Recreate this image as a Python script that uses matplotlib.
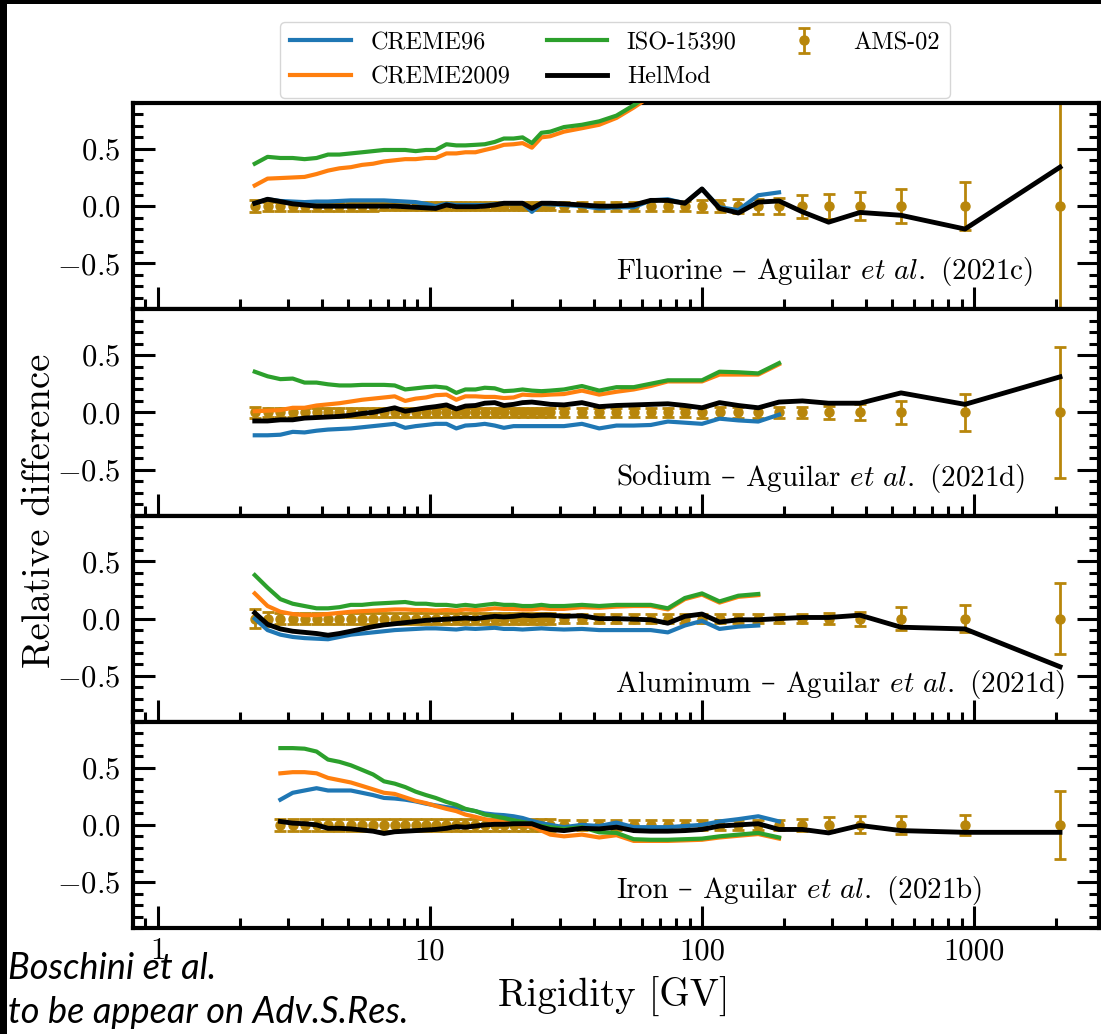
import matplotlib
matplotlib.use('Agg')
import matplotlib.pyplot as plt
from matplotlib.ticker import MultipleLocator, FixedLocator, FuncFormatter, NullFormatter
from matplotlib.patches import Rectangle

plt.rcParams['font.family'] = ['cmr10', 'DejaVu Serif']
plt.rcParams['mathtext.fontset'] = 'cm'
plt.rcParams['axes.formatter.use_mathtext'] = True

# ---------------- data ----------------
rigidity = [2.27, 2.53, 2.82, 3.13, 3.46, 3.83, 4.22, 4.65, 5.12, 5.63, 6.18, 6.78,
            7.42, 8.11, 8.86, 9.67, 10.5, 11.5, 12.5, 13.5, 14.7, 15.9, 17.3, 18.7,
            20.3, 21.9, 23.7, 25.7, 27.7, 31.1, 36.2, 41.9, 48.5, 56.1, 64.8, 74.9,
            86.5, 100, 116, 136, 161, 192, 234, 292, 381, 539, 926, 2070]
rigidity_fe = rigidity[2:]

panel_names = ["Fluorine", "Sodium", "Aluminum", "Iron"]
panel_refs = ["(2021c)", "(2021d)", "(2021d)", "(2021b)"]

# Fluorine
f_creme96 = [0.025, 0.06, 0.045, 0.04, 0.035, 0.04, 0.04, 0.045, 0.05, 0.05, 0.05, 0.05,
             0.045, 0.04, 0.035, 0.02, 0.0, 0.02, 0.01, 0.01, 0.01, 0.01, 0.015, 0.025,
             0.025, 0.025, -0.05, 0.02, 0.015, 0.01, 0.0, -0.02, -0.01, -0.01, 0.05, 0.06,
             0.025, 0.15, -0.01, -0.035, 0.095, 0.12]
f_creme2009 = [0.18, 0.24, 0.245, 0.25, 0.255, 0.28, 0.31, 0.33, 0.34, 0.36, 0.37, 0.39,
               0.40, 0.41, 0.41, 0.42, 0.42, 0.46, 0.46, 0.47, 0.47, 0.49, 0.51, 0.535,
               0.54, 0.55, 0.51, 0.60, 0.61, 0.65, 0.68, 0.71, 0.77, 0.86, 0.96, 1.08,
               1.18, 1.28, 1.38, 1.48, 1.58, 1.68]
f_iso = [0.37, 0.43, 0.42, 0.42, 0.41, 0.42, 0.45, 0.45, 0.46, 0.47, 0.48, 0.49,
         0.49, 0.49, 0.48, 0.49, 0.49, 0.54, 0.53, 0.53, 0.535, 0.54, 0.56, 0.59,
         0.59, 0.60, 0.55, 0.64, 0.65, 0.69, 0.71, 0.74, 0.79, 0.88, 0.98, 1.1,
         1.2, 1.3, 1.4, 1.5, 1.6, 1.7]
f_helmod = [0.025, 0.06, 0.04, 0.02, 0.01, 0.0, 0.0, 0.0, 0.0, 0.0, 0.0, 0.0,
            0.0, -0.005, -0.01, -0.015, -0.02, 0.01, -0.005, -0.005, -0.005, 0.0, 0.01, 0.025,
            0.025, 0.025, -0.02, 0.025, 0.025, 0.02, 0.01, 0.0, 0.0, 0.01, 0.05, 0.05,
            0.025, 0.15, -0.02, -0.06, 0.035, 0.045, -0.05, -0.14, -0.055, -0.08, -0.2, 0.34]
f_ams_err = [0.05, 0.04, 0.04, 0.04, 0.04, 0.04, 0.04, 0.04, 0.04, 0.04, 0.04, 0.035,
             0.035, 0.035, 0.035, 0.035, 0.035, 0.035, 0.035, 0.035, 0.035, 0.035, 0.035, 0.035,
             0.035, 0.035, 0.035, 0.035, 0.035, 0.04, 0.04, 0.04, 0.04, 0.04, 0.045, 0.045,
             0.045, 0.05, 0.055, 0.06, 0.065, 0.07, 0.10, 0.11, 0.125, 0.15, 0.21, 0.95]

# Sodium
na_creme96 = [-0.2, -0.2, -0.195, -0.17, -0.175, -0.16, -0.15, -0.145, -0.14, -0.13, -0.12, -0.11,
              -0.1, -0.135, -0.12, -0.11, -0.1, -0.1, -0.14, -0.115, -0.11, -0.1, -0.115, -0.135,
              -0.12, -0.12, -0.12, -0.12, -0.12, -0.12, -0.1, -0.14, -0.115, -0.115, -0.11, -0.08,
              -0.09, -0.1, -0.055, -0.07, -0.08, -0.02]
na_creme2009 = [0.01, 0.015, 0.02, 0.04, 0.04, 0.06, 0.07, 0.08, 0.095, 0.11, 0.12, 0.13,
                0.14, 0.10, 0.12, 0.13, 0.15, 0.155, 0.11, 0.14, 0.14, 0.135, 0.135, 0.125,
                0.13, 0.155, 0.15, 0.15, 0.155, 0.16, 0.19, 0.155, 0.18, 0.2, 0.23, 0.27,
                0.27, 0.27, 0.33, 0.33, 0.33, 0.42]
na_iso = [0.355, 0.315, 0.29, 0.295, 0.26, 0.26, 0.245, 0.235, 0.235, 0.24, 0.24, 0.24,
          0.235, 0.2, 0.21, 0.22, 0.225, 0.215, 0.17, 0.2, 0.2, 0.215, 0.21, 0.185,
          0.19, 0.2, 0.19, 0.185, 0.19, 0.2, 0.23, 0.19, 0.22, 0.22, 0.25, 0.28,
          0.28, 0.28, 0.355, 0.35, 0.34, 0.43]
na_helmod = [-0.075, -0.075, -0.065, -0.065, -0.05, -0.045, -0.04, -0.035, -0.025, -0.01, 0.0, 0.02,
             0.04, 0.01, 0.025, 0.04, 0.05, 0.065, 0.03, 0.055, 0.06, 0.08, 0.085, 0.06,
             0.07, 0.085, 0.09, 0.08, 0.07, 0.065, 0.085, 0.05, 0.06, 0.065, 0.07, 0.075,
             0.06, 0.04, 0.085, 0.06, 0.04, 0.09, 0.1, 0.08, 0.08, 0.17, 0.07, 0.31]
na_ams_err = [0.045, 0.04, 0.04, 0.04, 0.04, 0.04, 0.04, 0.04, 0.04, 0.04, 0.04, 0.04,
              0.04, 0.04, 0.04, 0.04, 0.04, 0.04, 0.04, 0.04, 0.04, 0.04, 0.04, 0.04,
              0.04, 0.04, 0.04, 0.04, 0.04, 0.04, 0.04, 0.04, 0.04, 0.04, 0.04, 0.04,
              0.04, 0.045, 0.05, 0.05, 0.05, 0.05, 0.05, 0.06, 0.07, 0.1, 0.16, 0.57]

# Aluminum
al_creme96 = [0.0, -0.1, -0.14, -0.16, -0.17, -0.175, -0.18, -0.16, -0.14, -0.13, -0.12, -0.11,
              -0.1, -0.095, -0.09, -0.085, -0.085, -0.09, -0.095, -0.085, -0.09, -0.085, -0.08, -0.09,
              -0.09, -0.095, -0.09, -0.085, -0.09, -0.095, -0.09, -0.1, -0.1, -0.1, -0.1, -0.12,
              -0.06, -0.02, -0.09, -0.07, -0.06]
al_creme2009 = [0.22, 0.11, 0.06, 0.04, 0.03, 0.03, 0.04, 0.05, 0.06, 0.065, 0.07, 0.075,
                0.08, 0.08, 0.075, 0.075, 0.07, 0.075, 0.07, 0.08, 0.075, 0.08, 0.09, 0.085,
                0.085, 0.08, 0.08, 0.09, 0.085, 0.085, 0.1, 0.095, 0.105, 0.11, 0.11, 0.08,
                0.17, 0.21, 0.14, 0.19, 0.205]
al_iso = [0.38, 0.27, 0.17, 0.13, 0.11, 0.09, 0.09, 0.10, 0.12, 0.12, 0.13, 0.135,
          0.14, 0.145, 0.13, 0.13, 0.12, 0.12, 0.11, 0.12, 0.11, 0.12, 0.13, 0.12,
          0.12, 0.11, 0.11, 0.12, 0.11, 0.11, 0.12, 0.11, 0.12, 0.12, 0.12, 0.09,
          0.18, 0.22, 0.15, 0.2, 0.215]
al_helmod = [0.05, -0.05, -0.09, -0.11, -0.12, -0.13, -0.145, -0.13, -0.11, -0.09, -0.07, -0.055,
             -0.045, -0.035, -0.025, -0.015, -0.01, -0.005, 0.0, 0.005, 0.0, 0.01, 0.02, 0.015,
             0.02, 0.03, 0.025, 0.03, 0.03, 0.02, 0.025, 0.0, 0.0, -0.005, -0.01, -0.04,
             0.02, 0.04, -0.03, -0.01, -0.01, 0.0, 0.01, 0.01, 0.03, -0.075, -0.09, -0.42]
al_ams_err = [0.08, 0.06, 0.045, 0.045, 0.045, 0.045, 0.045, 0.045, 0.045, 0.045, 0.045, 0.045,
              0.045, 0.045, 0.045, 0.045, 0.045, 0.045, 0.045, 0.045, 0.045, 0.045, 0.045, 0.045,
              0.045, 0.045, 0.045, 0.045, 0.045, 0.04, 0.04, 0.04, 0.04, 0.04, 0.04, 0.04,
              0.04, 0.04, 0.04, 0.04, 0.04, 0.04, 0.04, 0.05, 0.06, 0.1, 0.12, 0.31]

# Iron
fe_creme96 = [0.22, 0.28, 0.3, 0.32, 0.3, 0.3, 0.3, 0.28, 0.26, 0.235, 0.23, 0.22,
              0.205, 0.185, 0.17, 0.155, 0.145, 0.135, 0.12, 0.1, 0.09, 0.085, 0.075, 0.06,
              0.035, 0.015, 0.0, -0.02, 0.0, -0.01, 0.02, -0.02, -0.02, -0.02, -0.01, 0.0,
              0.03, 0.05, 0.075, 0.03]
fe_creme2009 = [0.45, 0.46, 0.46, 0.45, 0.41, 0.39, 0.37, 0.34, 0.31, 0.28, 0.27, 0.24,
                0.21, 0.19, 0.165, 0.14, 0.12, 0.09, 0.07, 0.05, 0.035, 0.02, 0.01, 0.0,
                -0.01, -0.05, -0.085, -0.1, -0.085, -0.11, -0.09, -0.14, -0.14, -0.14, -0.135, -0.13,
                -0.11, -0.095, -0.08, -0.12]
fe_iso = [0.67, 0.67, 0.665, 0.64, 0.57, 0.55, 0.52, 0.48, 0.44, 0.38, 0.36, 0.33,
          0.29, 0.26, 0.235, 0.2, 0.175, 0.14, 0.12, 0.09, 0.075, 0.06, 0.04, 0.025,
          0.01, -0.01, -0.02, -0.035, -0.02, -0.065, -0.07, -0.125, -0.13, -0.13, -0.125, -0.12,
          -0.1, -0.085, -0.07, -0.11]
fe_helmod = [0.03, 0.015, 0.01, 0.0, -0.03, -0.03, -0.035, -0.045, -0.055, -0.075, -0.06, -0.055,
             -0.05, -0.045, -0.04, -0.03, -0.015, -0.02, -0.01, 0.0, 0.005, 0.005, 0.01, 0.01,
             0.01, -0.02, -0.04, -0.05, -0.03, -0.035, -0.02, -0.05, -0.055, -0.055, -0.05, -0.04,
             -0.01, 0.0, 0.01, -0.04, -0.04, -0.07, -0.005, -0.05, -0.065, -0.065]
fe_ams_err = [0.05, 0.05, 0.05, 0.05, 0.05, 0.05, 0.05, 0.05, 0.05, 0.05, 0.05, 0.05,
              0.05, 0.05, 0.05, 0.05, 0.05, 0.05, 0.05, 0.05, 0.05, 0.05, 0.05, 0.05,
              0.05, 0.05, 0.05, 0.045, 0.045, 0.045, 0.045, 0.045, 0.045, 0.045, 0.045, 0.045,
              0.045, 0.045, 0.045, 0.045, 0.05, 0.065, 0.075, 0.08, 0.09, 0.3]

panels = [
    (rigidity, f_creme96, f_creme2009, f_iso, f_helmod, f_ams_err),
    (rigidity, na_creme96, na_creme2009, na_iso, na_helmod, na_ams_err),
    (rigidity, al_creme96, al_creme2009, al_iso, al_helmod, al_ams_err),
    (rigidity_fe, fe_creme96, fe_creme2009, fe_iso, fe_helmod, fe_ams_err),
]

# ---------------- figure ----------------
W, H = 1101, 1034
fig = plt.figure(figsize=(W / 100, H / 100), dpi=100)
gs = fig.add_gridspec(4, 1, left=133 / W, right=1099 / W, top=1 - 103 / H,
                      bottom=1 - 928 / H, hspace=0)
axes = [fig.add_subplot(gs[i]) for i in range(4)]
renderer = fig.canvas.get_renderer()

c_blue, c_orange, c_green, c_ams = '#1f77b4', '#ff7f0e', '#2ca02c', '#b8860b'


def panel_label(ax, pieces, x0, y0, fs=21, gap_px=9.5):
    x = x0
    for s, fam in pieces:
        t = ax.text(x, y0, s, transform=ax.transAxes, ha='left', va='baseline',
                    fontsize=fs, family=fam)
        bb = t.get_window_extent(renderer)
        x = ax.transAxes.inverted().transform((bb.x1 + gap_px, bb.y0))[0]


for i, (ax, (R, c96, c09, iso, hel, err)) in enumerate(zip(axes, panels)):
    ams_zero = [0.0] * len(R)
    ax.errorbar(R, ams_zero, yerr=err, fmt='o', color=c_ams, ms=6.5, elinewidth=2,
                capsize=4, capthick=2, zorder=2, label='AMS-02')
    ax.plot(R[:len(c96)], c96, color=c_blue, lw=3, zorder=3, label='CREME96')
    ax.plot(R[:len(c09)], c09, color=c_orange, lw=3, zorder=3, label='CREME2009')
    ax.plot(R[:len(iso)], iso, color=c_green, lw=3, zorder=3, label='ISO-15390')
    ax.plot(R, hel, color='black', lw=3.5, zorder=4, label='HelMod')

    ax.set_xscale('log')
    ax.set_xlim(0.81, 2880)
    ax.set_ylim(-0.9, 0.9)
    ax.yaxis.set_major_locator(MultipleLocator(0.5))
    ax.yaxis.set_minor_locator(MultipleLocator(0.1))
    ax.yaxis.set_major_formatter(FuncFormatter(lambda v, p: r'$%.1f$' % v))
    ax.xaxis.set_major_locator(FixedLocator([1, 10, 100, 1000]))
    ax.xaxis.set_minor_locator(FixedLocator(
        [0.9] + [m * d for d in (1, 10, 100, 1000) for m in range(2, 10)]))
    ax.xaxis.set_minor_formatter(NullFormatter())
    if i == 3:
        ax.xaxis.set_major_formatter(FuncFormatter(lambda v, p: '%d' % v))
    else:
        ax.xaxis.set_major_formatter(NullFormatter())
    ax.tick_params(which='both', direction='in', top=False, right=True,
                   left=True, bottom=True, labelsize=22)
    ax.tick_params(which='major', length=16, width=2.2)
    ax.tick_params(which='minor', length=7.5, width=2.2)
    ax.tick_params(axis='y', pad=9)
    ax.tick_params(axis='x', pad=7)
    for s in ax.spines.values():
        s.set_linewidth(3)
    panel_label(ax, [(panel_names[i], 'cmr10'), ('\u2013', 'DejaVu Serif'),
                     (r'Aguilar $\mathit{et\ al.}$ ' + panel_refs[i], 'cmr10')],
                0.5, 0.145)

handles, labels = axes[0].get_legend_handles_labels()
order = ['CREME96', 'CREME2009', 'ISO-15390', 'HelMod', 'AMS-02']
hmap = dict(zip(labels, handles))
fig.legend([hmap[k] for k in order], order, loc='lower center',
           bbox_to_anchor=(615 / W, 1 - 98 / H), ncol=3, fontsize=17.5,
           handlelength=2.5, columnspacing=1.5, borderaxespad=0, frameon=True)

fig.text(40 / W, 1 - 511 / H, 'Relative difference', rotation=90, ha='center',
         va='center', fontsize=28)
fig.text(614 / W, 1 - 997 / H, 'Rigidity [GV]', ha='center', va='center', fontsize=28)

fig.text(8 / W, 1 - 979 / H, 'Boschini et al.', family='Lato', style='italic',
         fontsize=26, ha='left', va='baseline')
fig.text(8 / W, 1 - 1023 / H, 'to be appear on Adv.S.Res.', family='Lato', style='italic',
         fontsize=26, ha='left', va='baseline')

# screenshot border
fig.patches.append(Rectangle((0, 0), 7 / W, 1, transform=fig.transFigure,
                             facecolor='black', edgecolor='none', zorder=10))
fig.patches.append(Rectangle((0, 1 - 4 / H), 1, 4 / H, transform=fig.transFigure,
                             facecolor='black', edgecolor='none', zorder=10))

fig.savefig('out.png', dpi=100)
